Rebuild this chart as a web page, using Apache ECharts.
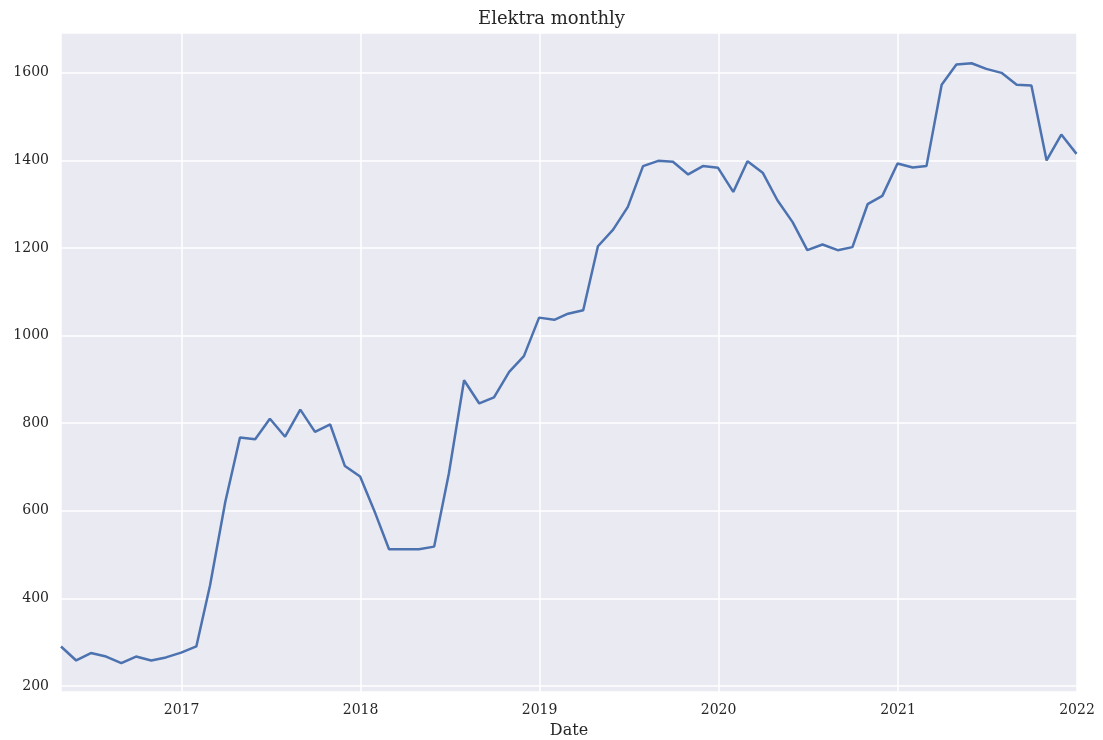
<!DOCTYPE html>
<html>
<head>
<meta charset="utf-8">
<script src="https://cdn.jsdelivr.net/npm/echarts@6/dist/echarts.min.js"></script>
<style>
html,body{margin:0;padding:0;background:#fff;}
#chart{width:1103px;height:740px;}
</style>
</head>
<body>
<div id="chart"></div>
<script>
const dates = [
  '2016-04-30','2016-05-31','2016-06-30','2016-07-31','2016-08-31','2016-09-30','2016-10-31','2016-11-30','2016-12-31',
  '2017-01-31','2017-02-28','2017-03-31','2017-04-30','2017-05-31','2017-06-30','2017-07-31','2017-08-31','2017-09-30','2017-10-31','2017-11-30','2017-12-31',
  '2018-01-31','2018-02-28','2018-03-31','2018-04-30','2018-05-31','2018-06-30','2018-07-31','2018-08-31','2018-09-30','2018-10-31','2018-11-30','2018-12-31',
  '2019-01-31','2019-02-28','2019-03-31','2019-04-30','2019-05-31','2019-06-30','2019-07-31','2019-08-31','2019-09-30','2019-10-31','2019-11-30','2019-12-31',
  '2020-01-31','2020-02-29','2020-03-31','2020-04-30','2020-05-31','2020-06-30','2020-07-31','2020-08-31','2020-09-30','2020-10-31','2020-11-30','2020-12-31',
  '2021-01-31','2021-02-28','2021-03-31','2021-04-30','2021-05-31','2021-06-30','2021-07-31','2021-08-31','2021-09-30','2021-10-31','2021-11-30','2021-12-31'
];
const values = [
  290, 258, 275, 267, 252, 267, 258, 265, 276,
  290, 430, 620, 767, 763, 810, 769, 831, 780, 797, 702, 678,
  594, 512, 512, 512, 518, 685, 898, 845, 859, 917, 953, 1041,
  1036, 1050, 1058, 1204, 1242, 1294, 1387, 1399, 1397, 1368, 1387, 1383,
  1328, 1398, 1372, 1309, 1259, 1195, 1208, 1195, 1202, 1300, 1319, 1393,
  1384, 1387, 1573, 1619, 1622, 1609, 1600, 1573, 1571, 1400, 1459, 1415
];
const titleText = 'Elektra monthly';
const xName = 'Date';
const xMin = '2016-04-30';
const xMax = '2022-01-01';
const yMin = 186;
const yMax = 1691;

const font = '"DejaVu Serif", serif';
const chart = echarts.init(document.getElementById('chart'), null, {renderer: 'canvas'});
chart.setOption({
  animation: false,
  backgroundColor: '#ffffff',
  title: {
    text: titleText, left: 'center', top: 5,
    textStyle: {fontFamily: font, fontSize: 18, fontWeight: 'normal', color: '#262626'}
  },
  grid: {left: 61, right: 26, top: 33, bottom: 48, show: true, backgroundColor: '#EAEAF2', borderWidth: 0,
         containLabel: false, outerBoundsMode: 'none'},
  xAxis: {
    type: 'time', min: xMin, max: xMax, splitNumber: 6,
    name: xName, nameLocation: 'middle', nameGap: 31,
    nameTextStyle: {fontFamily: font, fontSize: 16, color: '#262626'},
    axisLine: {show: false}, axisTick: {show: false},
    axisLabel: {
      fontFamily: font, fontSize: 14, color: '#262626', margin: 11, showMinLabel: false, showMaxLabel: true, hideOverlap: false,
      formatter: function (v) { const d = new Date(v); return (d.getMonth() === 0 && d.getDate() === 1) ? String(d.getFullYear()) : ''; }
    },
    splitLine: {show: true, lineStyle: {color: '#ffffff', width: 1.5}}
  },
  yAxis: {
    type: 'value', min: yMin, max: yMax, splitNumber: 7,
    axisLine: {show: false}, axisTick: {show: false},
    axisLabel: {fontFamily: font, fontSize: 14, color: '#262626', margin: 12, showMinLabel: false, showMaxLabel: false,
      formatter: function (v) { return String(v); }},
    splitLine: {show: true, lineStyle: {color: '#ffffff', width: 1.5}}
  },
  series: [{
    type: 'line', data: dates.map((d, i) => [d, values[i]]),
    showSymbol: false, symbol: 'none',
    lineStyle: {color: '#4C72B0', width: 2.5}, itemStyle: {color: '#4C72B0'}
  }]
});
</script>
</body>
</html>
